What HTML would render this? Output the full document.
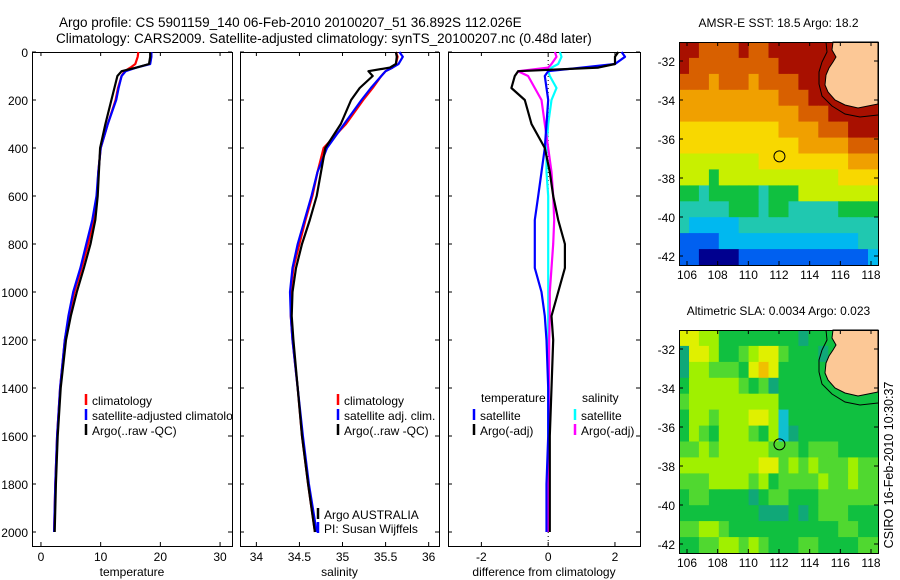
<!DOCTYPE html>
<html><head><meta charset="utf-8"><style>
body{margin:0;background:#fff;}
svg{display:block;font-family:"Liberation Sans",sans-serif;}
</style></head><body>
<svg id="fig" width="900" height="580" viewBox="0 0 900 580" xmlns="http://www.w3.org/2000/svg">
<text x="59" y="27" font-size="13.5">Argo profile: CS 5901159_140 06-Feb-2010 20100207_51 36.892S 112.026E</text>
<text x="56" y="43" font-size="13.5">Climatology: CARS2009. Satellite-adjusted climatology: synTS_20100207.nc (0.48d later)</text>
<g id="plots"></g>
<text transform="translate(893,465) rotate(-90)" text-anchor="middle" font-size="12.5">CSIRO 16-Feb-2010 10:30:37</text>
</svg>
<script>
const depth=[0,20,50,65,80,100,150,200,300,400,500,600,700,800,900,1000,1100,1200,1400,1600,1800,2000];
const argoT=[18.3,18.3,18.1,16,13.5,12.8,12.3,11.8,10.8,9.9,9.7,9.5,9.1,8.3,7.2,6.0,5.0,4.2,3.3,2.8,2.5,2.3];
const climT=[16.3,16.2,15.8,15,14,13.5,12.9,12.5,11.2,10.0,9.6,9.4,8.8,7.9,6.8,5.6,4.7,4.0,3.2,2.7,2.4,2.2];
const satT=[18.5,18.5,18.3,16,14.2,13.5,13.0,12.6,11.2,10.0,9.6,9.3,8.6,7.6,6.6,5.4,4.6,4.0,3.2,2.7,2.4,2.2];
const argoS=[35.62,35.63,35.62,35.55,35.30,35.35,35.20,35.10,34.98,34.80,34.75,34.70,34.62,34.53,34.46,34.42,34.41,34.43,34.48,34.53,34.60,34.68];
const climS=[35.62,35.64,35.62,35.58,35.50,35.45,35.35,35.24,35.04,34.78,34.71,34.65,34.57,34.50,34.43,34.40,34.40,34.42,34.48,34.53,34.60,34.68];
const satS=[35.66,35.70,35.65,35.58,35.50,35.45,35.33,35.22,35.02,34.82,34.71,34.64,34.56,34.48,34.42,34.39,34.40,34.42,34.48,34.54,34.61,34.70];
const diffTargo=[2.1,2.0,2.0,1.5,-0.9,-1.0,-1.1,-0.7,-0.5,-0.1,0.05,0.15,0.3,0.5,0.5,0.3,0.1,0.15,0.1,0.05,0.05,0.05];
const diffTsat=[2.2,2.3,2.0,1.0,0.0,-0.1,-0.05,0.0,-0.05,-0.1,-0.2,-0.3,-0.4,-0.4,-0.4,-0.2,-0.1,-0.05,0.0,0.0,-0.05,-0.05];
const diffSargo=[0.2,0.25,0.1,0.0,-0.9,-0.6,-0.4,-0.2,-0.1,0.0,0.1,0.15,0.18,0.15,0.1,0.05,0.05,0.03,0.02,0.02,0.0,0.0];
const diffSsat=[0.35,0.4,0.3,0.1,0.0,0.05,0.25,0.1,0.0,-0.05,-0.05,0.0,0.0,0.0,0.0,0.0,0.0,0.0,0.0,0.0,0.0,0.0];
const depthTicks=[0,200,400,600,800,1000,1200,1400,1600,1800,2000];
const tempTicks=[0,10,20,30];
const salTicks=[34,34.5,35,35.5,36];
const diffTicks=[-2,0,2];
const sstRows=["99888898899999999999","98888888889999999999","88878887888899999999","77777777778889999999","77777777777788899999","66666666667777888999","66666666666677777888","55555555666666666777","55545555555555556666","44344444344455555555","33333444344333334444","32222233333333333333","11112222222222222233","11000011111111111112"];
const slaRows=["55442222222212222222","15542234553222122222","14433325652222222222","24444432312222222222","34444444442222222222","24434445540222222222","24324443240122222222","33434444433323332222","44444444553434333433","33344443423333433433","23322221233222333333","22222222111212333222","33443222222222223322","22334434322233222233"];
const latTicks=[-32,-34,-36,-38,-40,-42];
const lonTicks=[106,108,110,112,114,116,118];

const NS="http://www.w3.org/2000/svg";
const root=document.getElementById('plots');
function mk(tag,attrs,parent){const e=document.createElementNS(NS,tag);for(const k in attrs)e.setAttribute(k,attrs[k]);(parent||root).appendChild(e);return e;}
function txt(x,y,s,size,anchor,parent){const t=mk('text',{x:x,y:y,'font-size':size||12,'text-anchor':anchor||'start'},parent);t.textContent=s;return t;}
const yTop=52,yBot=546;
const yD=d=>yTop+d*0.24;

function panel(name,x0,x1,xv0,xv1,xt,xlabel,showY){
  const g=mk('g',{});
  
  
  const sx=v=>x0+(v-xv0)/(xv1-xv0)*(x1-x0);
  mk('rect',{x:x0+.5,y:yTop+.5,width:x1-x0,height:yBot-yTop,fill:'none',stroke:'#000','stroke-width':1},g);
  depthTicks.forEach(d=>{const y=yD(d);
    mk('line',{x1:x0,x2:x0+4,y1:y,y2:y,stroke:'#000'},g);
    mk('line',{x1:x1-4,x2:x1,y1:y,y2:y,stroke:'#000'},g);
    if(showY){const t=txt(x0-4,y+5,String(d),12,'end',g);}
  });
  xt.forEach(v=>{const x=sx(v);
    mk('line',{x1:x,x2:x,y1:yBot,y2:yBot-4,stroke:'#000'},g);
    mk('line',{x1:x,x2:x,y1:yTop,y2:yTop+4,stroke:'#000'},g);
    const t=txt(x,561,String(v),12,'middle',g);
    
    
  });
  const xl=txt((x0+x1)/2,576,xlabel,12,'middle',g);
  
  
  return {g,sx,lg:g};
}
function series(p,vals,color,name,w){
  const d=vals.map((v,i)=>(i?'L':'M')+p.sx(v).toFixed(1)+','+yD(depth[i]).toFixed(1)).join('');
  const e=mk('path',{d:d,fill:'none',stroke:color,'stroke-width':w||2.2,'stroke-linejoin':'round'},p.g);
  
  
}
function legend(p,x,y,color,label){
  mk('line',{x1:x,x2:x,y1:y-11,y2:y,stroke:color,'stroke-width':2.5},p.lg);
  const t=txt(x+6,y,label,12,'start',p.lg);
  
  
}

const clip=mk('clipPath',{id:'c1'});mk('rect',{x:32,y:40,width:200,height:510},clip);
const p1=panel('temperature',32,232,-1.5,32,tempTicks,'temperature',true);
series(p1,climT,'#f00','climatology-temp-line');
series(p1,satT,'#00f','satellite-temp-line');
series(p1,argoT,'#000','argo-temp-line');
p1.lg=mk('g',{'clip-path':'url(#c1)'},p1.g);
legend(p1,86,405,'#f00','climatology');
legend(p1,86,420,'#00f','satellite-adjusted climatology');
legend(p1,86,435,'#000','Argo(..raw -QC)');

const p2=panel('salinity',240,439,33.81,36.12,salTicks,'salinity',false);
series(p2,climS,'#f00','climatology-sal-line');
series(p2,satS,'#00f','satellite-sal-line');
series(p2,argoS,'#000','argo-sal-line');
legend(p2,338,405,'#f00','climatology');
legend(p2,338,420,'#00f','satellite adj. clim.');
legend(p2,338,435,'#000','Argo(..raw -QC)');
legend(p2,318,519,'#000','Argo AUSTRALIA');
legend(p2,318,533,'#00f','PI: Susan Wijffels');

const p3=panel('difference',448,640,-3.0,2.75,diffTicks,'difference from climatology',false);
mk('line',{x1:p3.sx(0),x2:p3.sx(0),y1:yTop,y2:yBot,stroke:'#000','stroke-dasharray':'1,3'},p3.g);
series(p3,diffSsat,'#0ff','sal-satellite-diff-line');
series(p3,diffSargo,'#f0f','sal-argo-diff-line');
series(p3,diffTsat,'#00f','temp-satellite-diff-line');
series(p3,diffTargo,'#000','temp-argo-diff-line');
{const t=txt(481,402,'temperature',12,'start',p3.g);}
{const t=txt(582,402,'salinity',12,'start',p3.g);}
legend(p3,474,420,'#00f','satellite');
legend(p3,474,435,'#000','Argo(-adj)');
legend(p3,575,420,'#0ff','satellite');
legend(p3,575,435,'#f0f','Argo(-adj)');

const sstPal=['#00008f','#0060f0','#00b8f0','#20c8b0','#10c040','#c8f000','#f8d800','#f0a000','#d86000','#a81000'];
const slaPal=['#10c0d0','#10a878','#10c040','#50d830','#a0f000','#e0f000','#f0c000'];
function map(name,top,rows,pal,title,landPath,coastPath){
  const g=mk('g',{});
  
  
  const x0=679,x1=878,y1=top+223;
  const lonX=l=>687+(l-106)*(184/12);
  const latY=a=>top+19+(-32-a)*19.5;
  const nr=rows.length,nc=rows[0].length,cw=(x1-x0)/nc,ch=(y1-top)/nr;
  rows.forEach((r,i)=>{for(let j=0;j<nc;j++){
    const c=mk('rect',{x:(x0+j*cw).toFixed(1),y:(top+i*ch).toFixed(1),width:(cw+.6).toFixed(1),height:(ch+.6).toFixed(1),fill:pal[+r[j]]},g);
    
    
  }});
  mk('path',{d:landPath,fill:'#fcc896',stroke:'#000','stroke-width':1,transform:'translate(0,'+(top-42)+')'},g);
  mk('path',{d:coastPath,fill:'none',stroke:'#000','stroke-width':1,transform:'translate(0,'+(top-42)+')'},g);
  const c=mk('circle',{cx:lonX(112.03),cy:latY(-36.89),r:5.5,fill:'none',stroke:'#000','stroke-width':1},g);
  
  
  mk('rect',{x:x0+.5,y:top+.5,width:x1-x0,height:y1-top,fill:'none',stroke:'#000'},g);
  latTicks.forEach(a=>{const y=latY(a);mk('line',{x1:x0,x2:x0+4,y1:y,y2:y,stroke:'#000'},g);mk('line',{x1:x1-4,x2:x1,y1:y,y2:y,stroke:'#000'},g);
    const t=txt(x0-4,y+5,String(a),12,'end',g);});
  lonTicks.forEach(l=>{const x=lonX(l);mk('line',{x1:x,x2:x,y1:top,y2:top+4,stroke:'#000'},g);mk('line',{x1:x,x2:x,y1:y1-4,y2:y1,stroke:'#000'},g);
    const t=txt(x,y1+14,String(l),12,'middle',g);});
  const t=txt((x0+x1)/2,top-15,title,12,'middle',g);
  
  
}
const land='M833,42 L832,50 L836,57 L833,62 L829,68 L826,75 L825,85 L828,92 L835,100 L845,105 L858,108 L868,106 L878,104 L878,42 Z';
const coast='M826,42 L827,52 L822,62 L819,72 L819,84 L822,96 L832,106 L845,114 L860,117 L878,115';
map('sst-map',42,sstRows,sstPal,'AMSR-E SST: 18.5 Argo: 18.2',land,coast);
map('sla-map',330,slaRows,slaPal,'Altimetric SLA: 0.0034 Argo: 0.023',land,coast);
</script>
</body></html>
